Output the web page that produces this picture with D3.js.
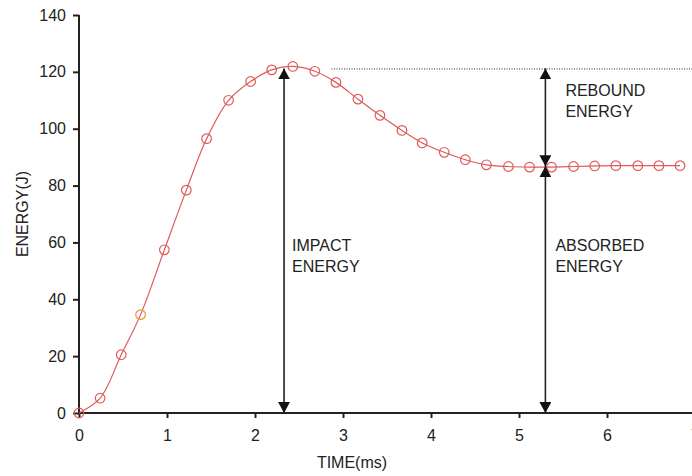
<!DOCTYPE html>
<html>
<head>
<meta charset="utf-8">
<script src="https://cdn.jsdelivr.net/npm/d3@7"></script>
<style>
  html, body { margin: 0; padding: 0; background: #fff; }
  svg { display: block; }
  text { font-family: "Liberation Sans", Arial, sans-serif; fill: #222; }
</style>
</head>
<body>
<svg id="chart" width="692" height="476"></svg>
<script>
// ---- data ----
const times = [0, 0.24, 0.48, 0.70, 0.97, 1.22, 1.45, 1.70, 1.95, 2.19, 2.43, 2.68, 2.92, 3.17, 3.42, 3.67, 3.90, 4.15, 4.39, 4.63, 4.88, 5.12, 5.37, 5.62, 5.86, 6.10, 6.35, 6.59, 6.83];
const energies = [0, 5.2, 20.5, 34.6, 57.4, 78.4, 96.5, 110, 116.6, 120.7, 121.9, 120.2, 116.3, 110.4, 104.7, 99.4, 95.0, 91.7, 89.1, 87.3, 86.7, 86.5, 86.5, 86.7, 86.9, 87.0, 87.0, 87.0, 87.0];
const highlightIndex = [3];
const xTicks = [0, 1, 2, 3, 4, 5, 6, 7];
const yTicks = [0, 20, 40, 60, 80, 100, 120, 140];
const impactTime = 2.33;      // ms, impact arrow
const impactEnergy = 121.2;   // J, peak level
const reboundTime = 5.3;      // ms, rebound/absorbed arrows
const absorbedEnergy = 86.8;  // J, plateau level
const dottedStart = 2.87;     // ms, start of dotted level line
const xLabel = "TIME(ms)";
const yLabel = "ENERGY(J)";

const svg = d3.select("#chart");
const x = d3.scaleLinear().domain([0, 7]).range([79, 695]);
const y = d3.scaleLinear().domain([0, 140]).range([413, 15]);

const FONT = 16;
const RED = "#e05a5a";

// arrow marker
const defs = svg.append("defs");
defs.append("marker")
  .attr("id", "arrow")
  .attr("viewBox", "0 0 11 12")
  .attr("refX", 11).attr("refY", 6)
  .attr("markerWidth", 11).attr("markerHeight", 12)
  .attr("markerUnits", "userSpaceOnUse")
  .attr("orient", "auto-start-reverse")
  .append("path").attr("d", "M0,0 L11,6 L0,12 Z").attr("fill", "#111");

// Y axis
const yAxis = svg.append("g")
  .attr("transform", `translate(${x(0)},0)`)
  .call(d3.axisLeft(y).tickValues(yTicks).tickSize(6).tickPadding(7).tickFormat(d3.format("d")));
yAxis.select(".domain").attr("stroke", "#222").attr("stroke-width", 2).attr("d", `M0,${y(0)}V${y(140)}`);
yAxis.selectAll(".tick line").attr("stroke", "#222").attr("stroke-width", 2);
yAxis.selectAll(".tick text").attr("font-size", FONT).attr("font-family", "Liberation Sans, Arial, sans-serif").attr("fill", "#222");

// X axis
const xAxis = svg.append("g")
  .attr("transform", `translate(0,${y(0)})`)
  .call(d3.axisBottom(x).tickValues(xTicks).tickSize(5).tickPadding(12).tickFormat(d3.format("d")));
xAxis.select(".domain").attr("stroke", "#222").attr("stroke-width", 2).attr("d", `M${x(0) - 1},0H${x(7)}`);
xAxis.selectAll(".tick line").attr("stroke", "#222").attr("stroke-width", 2);
xAxis.selectAll(".tick text").attr("font-size", FONT).attr("font-family", "Liberation Sans, Arial, sans-serif").attr("fill", "#222");

// axis titles
svg.append("text")
  .attr("x", 352).attr("y", 468)
  .attr("text-anchor", "middle")
  .attr("font-size", FONT)
  .text(xLabel);
svg.append("text")
  .attr("transform", `translate(28,214) rotate(-90)`)
  .attr("text-anchor", "middle")
  .attr("font-size", FONT)
  .text(yLabel);

// data
const pts = times.map((t, i) => ({ t, e: energies[i], i }));

// curve
svg.append("path")
  .datum(pts)
  .attr("fill", "none")
  .attr("stroke", RED)
  .attr("stroke-width", 1.2)
  .attr("d", d3.line().x(d => x(d.t)).y(d => y(d.e)).curve(d3.curveCatmullRom.alpha(0.5)));

// markers
svg.append("g").selectAll("circle")
  .data(pts)
  .join("circle")
  .attr("cx", d => x(d.t))
  .attr("cy", d => y(d.e))
  .attr("r", 4.8)
  .attr("fill", "none")
  .attr("stroke", d => highlightIndex.includes(d.i) ? "#e39a3a" : RED)
  .attr("stroke-width", 1.2);

// dotted level line
svg.append("line")
  .attr("x1", x(dottedStart)).attr("x2", 692)
  .attr("y1", y(impactEnergy) + 0.5).attr("y2", y(impactEnergy) + 0.5)
  .attr("stroke", "#222").attr("stroke-width", 1)
  .attr("stroke-dasharray", "1,1.5");

// arrows
function arrow(t, e1, e2) {
  svg.append("line")
    .attr("x1", x(t)).attr("x2", x(t))
    .attr("y1", y(e1)).attr("y2", y(e2))
    .attr("stroke", "#222").attr("stroke-width", 1.6)
    .attr("marker-start", "url(#arrow)")
    .attr("marker-end", "url(#arrow)");
}
arrow(impactTime, 0, impactEnergy);
arrow(reboundTime, absorbedEnergy, impactEnergy);
arrow(reboundTime, 0, absorbedEnergy);

// annotation labels
function label(px, py, lines) {
  const t = svg.append("text").attr("font-size", FONT).attr("fill", "#222");
  lines.forEach((s, k) => {
    t.append("tspan").attr("x", px).attr("y", py + k * 21).text(s);
  });
}
label(x(impactTime) + 8, 251, ["IMPACT", "ENERGY"]);
label(x(reboundTime) + 20, 96, ["REBOUND", "ENERGY"]);
label(x(reboundTime) + 10, 251, ["ABSORBED", "ENERGY"]);
</script>
</body>
</html>
